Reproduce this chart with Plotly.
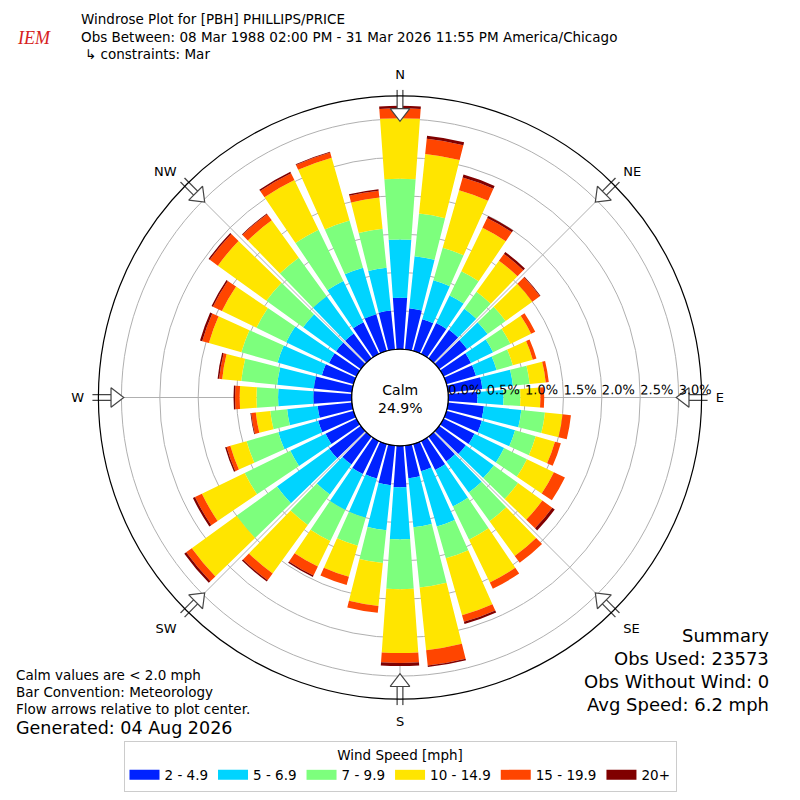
import plotly.graph_objects as go

# ---------------- data (percent of observations) ----------------
directions = [0, 10, 20, 30, 40, 50, 60, 70, 80, 90, 100, 110, 120, 130, 140, 150, 160, 170,
              180, 190, 200, 210, 220, 230, 240, 250, 260, 270, 280, 290, 300, 310, 320, 330, 340, 350]

bin_labels = ["2 - 4.9", "5 - 6.9", "7 - 9.9", "10 - 14.9", "15 - 19.9", "20+"]
bin_colors = ["#0022ff", "#00d4ff", "#7dff7d", "#ffe500", "#ff4500", "#800000"]

speed_2_5 = [0.67, 0.54, 0.43, 0.45, 0.46, 0.45, 0.40, 0.40, 0.45, 0.38, 0.47, 0.48, 0.45, 0.43, 0.40, 0.42, 0.37, 0.43,
             0.54, 0.52, 0.47, 0.48, 0.45, 0.51, 0.45, 0.48, 0.45, 0.50, 0.50, 0.43, 0.40, 0.40, 0.40, 0.46, 0.50, 0.51]
speed_5_7 = [0.76, 0.68, 0.53, 0.40, 0.34, 0.33, 0.32, 0.28, 0.40, 0.34, 0.49, 0.45, 0.43, 0.45, 0.50, 0.53, 0.75, 0.64,
             0.68, 0.59, 0.53, 0.52, 0.48, 0.84, 0.51, 0.54, 0.40, 0.46, 0.48, 0.60, 0.62, 0.53, 0.60, 0.60, 0.63, 0.56]
speed_7_10 = [0.79, 0.56, 0.44, 0.35, 0.27, 0.29, 0.25, 0.22, 0.22, 0.22, 0.31, 0.28, 0.33, 0.39, 0.46, 0.48, 0.43, 0.79,
              0.65, 0.43, 0.38, 0.45, 0.49, 0.65, 0.66, 0.43, 0.22, 0.28, 0.47, 0.49, 0.43, 0.59, 0.62, 0.74, 0.64, 0.51]
speed_10_15 = [0.79, 0.78, 0.78, 0.63, 0.50, 0.43, 0.30, 0.27, 0.21, 0.26, 0.23, 0.26, 0.39, 0.39, 0.56, 0.62, 0.77, 0.82,
               0.83, 0.56, 0.42, 0.37, 0.78, 0.72, 0.62, 0.22, 0.19, 0.22, 0.25, 0.44, 0.50, 0.78, 0.60, 0.72, 0.85, 0.41]
speed_15_20 = [0.13, 0.20, 0.17, 0.14, 0.11, 0.12, 0.06, 0.05, 0.04, 0.05, 0.11, 0.08, 0.16, 0.16, 0.11, 0.09, 0.09, 0.20,
               0.13, 0.09, 0.11, 0.13, 0.11, 0.09, 0.10, 0.05, 0.06, 0.06, 0.04, 0.09, 0.13, 0.13, 0.10, 0.10, 0.07, 0.09]
speed_20_up = [0.03, 0.04, 0.04, 0.03, 0.03, 0.01, 0.00, 0.00, 0.00, 0.00, 0.00, 0.00, 0.00, 0.04, 0.00, 0.00, 0.03, 0.02,
               0.04, 0.00, 0.00, 0.02, 0.02, 0.03, 0.03, 0.02, 0.01, 0.02, 0.02, 0.03, 0.02, 0.02, 0.01, 0.02, 0.01, 0.02]

series = [speed_2_5, speed_5_7, speed_7_10, speed_10_15, speed_15_20, speed_20_up]

radial_ticks = [0.0, 0.5, 1.0, 1.5, 2.0, 2.5, 3.0]
radial_ticktext = ["0.0%", "0.5%", "1.0%", "1.5%", "2.0%", "2.5%", "3.0%"]
compass_angles = [0, 45, 90, 135, 180, 225, 270, 315]
compass_labels = ["N", "NE", "E", "SE", "S", "SW", "W", "NW"]

calm_pct = "24.9%"
FONT = "DejaVu Sans"

# the page body adds an 8px margin; the figure is sized so the page is 800x800
W = H = 784
OFF = 8


def px_x(X):
    return (X - OFF) / W


def px_y(Y):
    return 1 - (Y - OFF) / H


fig = go.Figure()

for vals, name, col in zip(series, bin_labels, bin_colors):
    fig.add_trace(go.Barpolar(
        r=vals, theta=directions, width=8.2, name=name, legendgroup=name,
        marker=dict(color=col, line=dict(width=0)),
        showlegend=False, hoverinfo="skip",
    ))
    # legend entry drawn as a wide patch (thick line swatch), tied to the bars
    fig.add_trace(go.Scatterpolar(
        r=[None], theta=[None], mode="lines", name=name, legendgroup=name,
        line=dict(color=col, width=10), showlegend=True, hoverinfo="skip",
    ))

# calm circle edge
circle_theta = list(range(0, 361, 2))
fig.add_trace(go.Scatterpolar(
    r=[0] * len(circle_theta), theta=circle_theta, mode="lines",
    line=dict(color="black", width=1.2), showlegend=False, hoverinfo="skip"))

# flow arrows on the outer ring (shaft outline, shaft fill, head)
fig.add_trace(go.Scatterpolar(
    r=[3.25] * 8, theta=compass_angles, mode="markers", cliponaxis=False,
    marker=dict(symbol="line-ns", size=14, angle=compass_angles,
                line=dict(color="#444444", width=7)),
    showlegend=False, hoverinfo="skip"))
fig.add_trace(go.Scatterpolar(
    r=[3.26] * 8, theta=compass_angles, mode="markers", cliponaxis=False,
    marker=dict(symbol="line-ns", size=14, angle=compass_angles,
                line=dict(color="white", width=4.5)),
    showlegend=False, hoverinfo="skip"))
fig.add_trace(go.Scatterpolar(
    r=[3.08] * 8, theta=compass_angles, mode="markers", cliponaxis=False,
    marker=dict(symbol="triangle-up", size=17, angle=[a + 180 for a in compass_angles],
                color="white", line=dict(color="#444444", width=1.2)),
    showlegend=False, hoverinfo="skip"))

fig.update_layout(
    width=W, height=H,
    margin=dict(l=0, r=0, t=0, b=0),
    paper_bgcolor="white",
    font=dict(family=FONT, size=13, color="black"),
    polar=dict(
        domain=dict(x=[px_x(98), px_x(702)], y=[px_y(700), px_y(96)]),
        bgcolor="white",
        hole=0.16,
        barmode="stack",
        radialaxis=dict(
            range=[0, 3.3], tickvals=radial_ticks, ticktext=radial_ticktext,
            angle=0, tickangle=-0.5, side="counterclockwise", showline=False, ticks="",
            gridcolor="#b0b0b0", gridwidth=1, layer="above traces",
            tickfont=dict(size=13, color="black"),
        ),
        angularaxis=dict(
            rotation=90, direction="clockwise",
            tickmode="array", tickvals=compass_angles, ticktext=compass_labels,
            ticks="outside", ticklen=11, tickcolor="rgba(0,0,0,0)",
            showline=True, linecolor="black", linewidth=1.2,
            gridcolor="#b0b0b0", gridwidth=1, layer="above traces",
            tickfont=dict(size=13, color="black"),
        ),
    ),
    legend=dict(
        orientation="h", x=px_x(400), xanchor="center", y=px_y(742), yanchor="top",
        title=dict(text="Wind Speed [mph]", side="top center", font=dict(size=13.5)),
        bordercolor="#cccccc", borderwidth=1, bgcolor="white",
        font=dict(size=13.5), itemwidth=30, traceorder="normal",
    ),
    showlegend=True,
)


def ann(text, X, Y, size=13.5, xanchor="left", color="black", family=FONT):
    fig.add_annotation(text=text, x=px_x(X), y=px_y(Y), xref="paper", yref="paper",
                       xanchor=xanchor, yanchor="middle", showarrow=False,
                       font=dict(family=family, size=size, color=color))


ann("Windrose Plot for [PBH] PHILLIPS/PRICE", 79, 19)
ann("Obs Between: 08 Mar 1988 02:00 PM - 31 Mar 2026 11:55 PM America/Chicago", 79, 37)
ann("\u21b3 constraints: Mar", 83, 54)
ann("<i>IEM</i>", 34, 38, size=18, xanchor="center", color="#d62020", family="Liberation Serif")

ann("Calm values are < 2.0 mph", 14, 676, size=13.5)
ann("Bar Convention: Meteorology", 14, 693, size=13.5)
ann("Flow arrows relative to plot center.", 14, 710, size=13.5)
ann("Generated: 04 Aug 2026", 14, 729, size=17.5)

ann("Summary", 771, 636, size=18, xanchor="right")
ann("Obs Used: 23573", 771, 659, size=18, xanchor="right")
ann("Obs Without Wind: 0", 771, 682, size=18, xanchor="right")
ann("Avg Speed: 6.2 mph", 771, 705, size=18, xanchor="right")

ann("Calm<br>" + calm_pct, 400, 399, size=14, xanchor="center")

fig.write_html("out.html")
